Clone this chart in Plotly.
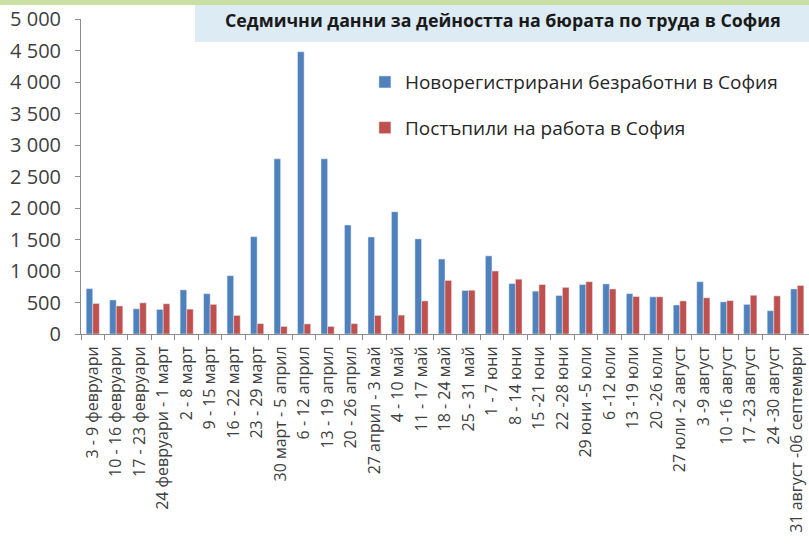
import plotly.graph_objects as go

weeks = [
    "3 - 9 февруари", "10 - 16 февруари", "17 - 23 февруари", "24 февруари - 1 март",
    "2 - 8 март", "9 - 15 март", "16 - 22 март", "23 - 29 март",
    "30 март - 5 април", "6 - 12 април", "13 - 19 април", "20 - 26 април",
    "27 април - 3 май", "4 - 10 май", "11 - 17 май", "18 - 24 май",
    "25 - 31 май", "1 - 7 юни", "8 - 14 юни", "15 -21 юни",
    "22 -28 юни", "29 юни -5 юли", "6 -12 юли", "13 -19 юли",
    "20 -26 юли", "27 юли -2 август", "3 -9 август", "10 -16 август",
    "17 -23 август", "24 -30 август", "31 август -06 септември",
]

new_unemployed = [
    720, 540, 400, 390, 700, 640, 925, 1545, 2780, 4480, 2780, 1730,
    1540, 1940, 1510, 1190, 690, 1240, 800, 680, 610, 785, 795, 640,
    590, 460, 830, 510, 470, 370, 715,
]
started_work = [
    485, 445, 495, 480, 395, 470, 295, 165, 120, 160, 120, 165,
    295, 300, 525, 850, 695, 1000, 870, 785, 740, 830, 715, 595,
    590, 525, 575, 530, 615, 605, 770,
]

y_ticks = [0, 500, 1000, 1500, 2000, 2500, 3000, 3500, 4000, 4500, 5000]
y_tick_text = ["0", "500", "1 000", "1 500", "2 000", "2 500", "3 000",
               "3 500", "4 000", "4 500", "5 000"]

title_text = "Седмични данни за дейността на бюрата по труда в София"
name_blue = "Новорегистрирани безработни в София"
name_red = "Постъпили на работа в София"

fig = go.Figure()
fig.add_trace(go.Bar(x=weeks, y=new_unemployed, name=name_blue,
                     marker_color="#4f81bd", legendgroup="a"))
fig.add_trace(go.Bar(x=weeks, y=started_work, name=name_red,
                     marker_color="#c0504d", legendgroup="b"))

fig.update_layout(
    width=809, height=550,
    margin=dict(l=81, r=0, t=19, b=216, autoexpand=False),
    paper_bgcolor="white", plot_bgcolor="white",
    barmode="group", bargap=0.44, bargroupgap=0.0,
    font=dict(family="Open Sans", color="#404040"),
    showlegend=True,
    legend=dict(x=0.39, y=0.86, xanchor="left", yanchor="top",
                font=dict(size=19, color="#262626", family="Open Sans"),
                tracegroupgap=18, bgcolor="rgba(0,0,0,0)",
                itemwidth=30),
    xaxis=dict(range=[-0.5, 30.5], tickangle=-90, ticks="outside",
               tickson="boundaries", ticklen=5, tickcolor="#8c8c8c",
               ticklabelstandoff=5,
               showline=True, linecolor="#8c8c8c", linewidth=1,
               automargin=False,
               tickfont=dict(size=16, color="#404040", family="Open Sans"),
               showgrid=False),
    yaxis=dict(range=[0, 5000], tickvals=y_ticks, ticktext=y_tick_text,
               ticks="outside", ticklen=5, tickcolor="#8c8c8c",
               ticklabelstandoff=10, automargin=False,
               showline=True, linecolor="#8c8c8c", linewidth=1,
               showgrid=False, zeroline=False,
               tickfont=dict(size=20, color="#404040", family="Open Sans")),
    shapes=[
        dict(type="rect", xref="paper", yref="paper",
             x0=-0.2, x1=1.0, y0=1.0444, y1=1.07, fillcolor="#c9dfa3",
             line_width=0, layer="below"),
        dict(type="rect", xref="paper", yref="paper",
             x0=0.1566, x1=1.0, y0=0.927, y1=1.0444, fillcolor="#ddebf5",
             line_width=0, layer="below"),
    ],
    annotations=[
        dict(text="<b>" + title_text + "</b>", xref="paper", yref="paper",
             x=0.58, y=0.997, xanchor="center", yanchor="middle",
             showarrow=False, font=dict(size=17.8, color="#1a1a1a", family="Open Sans")),
    ],
)

fig.write_html("out.html",
               config={"displayModeBar": False},
               post_script="document.body.style.margin='0';document.body.style.overflow='hidden';")
